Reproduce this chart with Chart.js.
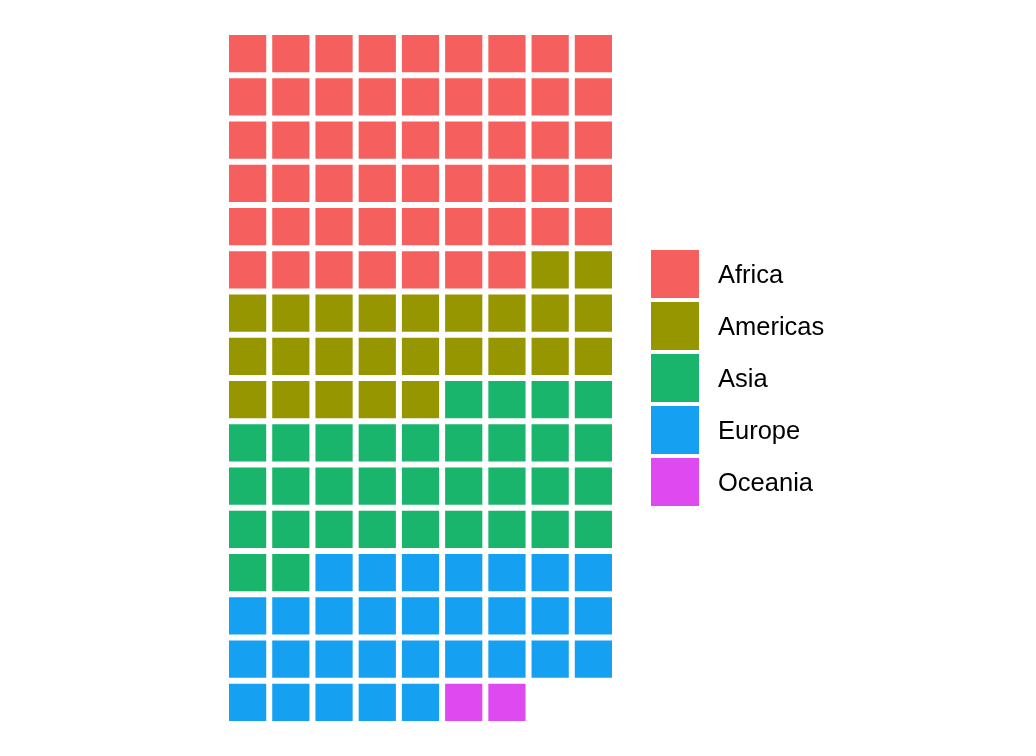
<!DOCTYPE html>
<html>
<head>
<meta charset="utf-8">
<script src="https://cdn.jsdelivr.net/npm/chart.js@4.4.1/dist/chart.umd.min.js"></script>
<style>
  html, body { margin: 0; padding: 0; background: #ffffff; }
  #wrap { width: 1036px; height: 756px; position: relative; }
</style>
</head>
<body>
<div id="wrap"><canvas id="c" width="1036" height="756"></canvas></div>
<script>
// Data: number of countries per continent (one cell each)
const categories = ['Africa', 'Americas', 'Asia', 'Europe', 'Oceania'];
const counts = [52, 25, 33, 30, 2];
const colors = ['#F5605E', '#969600', '#1AB56D', '#15A0F2', '#DE4AF0'];
const nCols = 9;
const nRows = 16;

// Build cell positions (row-major fill from top-left)
const datasets = [];
let idx = 0;
categories.forEach((cat, k) => {
  const pts = [];
  for (let j = 0; j < counts[k]; j++) {
    pts.push({ x: (idx % nCols) + 1, y: Math.floor(idx / nCols) + 1 });
    idx++;
  }
  const rad = (ctx) => {
    const xs = ctx.chart.scales.x;
    if (!xs) return 20;
    const pitch = Math.abs(xs.getPixelForValue(2) - xs.getPixelForValue(1));
    return (pitch - 6) / Math.SQRT2;
  };
  datasets.push({
    label: cat,
    data: pts,
    backgroundColor: colors[k],
    borderWidth: 0,
    pointStyle: 'rect',
    pointRadius: rad,
    pointHoverRadius: rad
  });
});

const legendPlugin = {
  id: 'waffleLegend',
  afterDraw(chart) {
    const ctx = chart.ctx;
    const bx = 651, by = 250, bs = 48, step = 52;
    ctx.save();
    ctx.font = '25.5px "Liberation Sans", Arial, sans-serif';
    ctx.textBaseline = 'middle';
    ctx.textAlign = 'left';
    categories.forEach((cat, k) => {
      const y = by + k * step;
      ctx.fillStyle = colors[k];
      ctx.fillRect(bx, y, bs, bs);
      ctx.fillStyle = '#000000';
      ctx.fillText(cat, 718, y + bs / 2 + 2);
    });
    ctx.restore();
  }
};

new Chart(document.getElementById('c'), {
  type: 'scatter',
  data: { datasets },
  options: {
    responsive: false,
    animation: false,
    events: [],
    layout: { padding: { left: 226, top: 32, right: 421, bottom: 32 } },
    plugins: { legend: { display: false }, tooltip: { enabled: false } },
    scales: {
      x: { type: 'linear', min: 0.5, max: nCols + 0.5, display: false },
      y: { type: 'linear', min: 0.5, max: nRows + 0.5, reverse: true, display: false }
    }
  },
  plugins: [legendPlugin]
});
</script>
</body>
</html>
